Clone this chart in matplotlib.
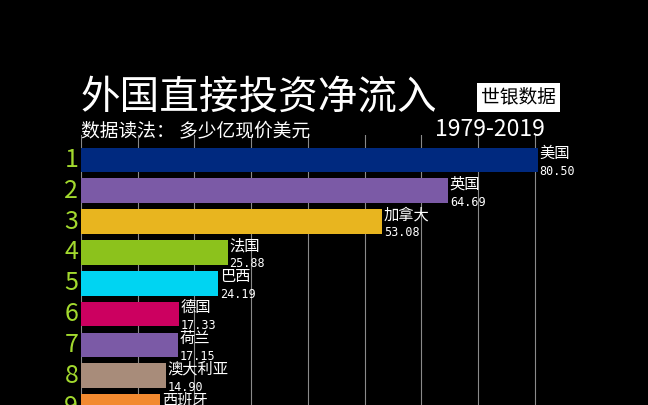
import matplotlib
matplotlib.use("Agg")
from matplotlib import pyplot as plt

plt.rcParams['font.family'] = ['Noto Sans CJK SC', 'DejaVu Sans']

countries = ["美国", "英国", "加拿大", "法国", "巴西", "德国", "荷兰", "澳大利亚", "西班牙"]
values = [80.50, 64.69, 53.08, 25.88, 24.19, 17.33, 17.15, 14.90, 13.95]
colors = ["#00297f", "#7b5aa6", "#e8b51f", "#8cc21c", "#00d4f2",
          "#cc0060", "#7b5aa6", "#a88c7a", "#f28a30"]
ranks = list(range(1, len(countries) + 1))

fig = plt.figure(figsize=(6.48, 4.05), dpi=100, facecolor="black")
ax = fig.add_axes([0.125, 0.0, 0.775, 0.667])
ax.set_facecolor("black")

ax.barh(ranks, values, height=0.8, color=colors, zorder=3)
ax.set_xlim(0, 88.5)
ax.set_ylim(8.95, 0.19)

# grid
ax.set_xticks(range(0, 90, 10))
ax.grid(axis="x", color="#8a8a8a", linewidth=0.8, zorder=0)
ax.tick_params(left=False, bottom=False, labelleft=False, labelbottom=False)
for s in ax.spines.values():
    s.set_visible(False)

for r, name, v in zip(ranks, countries, values):
    ax.text(v + 0.3, r - 0.22, name, color="white", fontsize=11,
            ha="left", va="center", zorder=4)
    ax.text(v + 0.3, r + 0.37, f"{v:.2f}", color="white", fontsize=8.5,
            family="DejaVu Sans Mono", ha="left", va="center", zorder=4)
    ax.text(-0.5, r, str(r), color="#a2d92e", fontsize=18,
            ha="right", va="center", clip_on=False)

fig.text(0.125, 0.76, "外国直接投资净流入", color="white", fontsize=28.5,
         ha="left", va="center")
fig.text(0.125, 0.675, "数据读法： 多少亿现价美元", color="white", fontsize=13.5,
         ha="left", va="center")
fig.text(0.671, 0.68, "1979-2019", color="white", fontsize=16.5,
         ha="left", va="center")
fig.text(0.8, 0.76, "世银数据", color="black", fontsize=13.5, ha="center", va="center",
         bbox=dict(facecolor="white", edgecolor="none", pad=3))

fig.savefig("out.png", dpi=100, facecolor="black")
